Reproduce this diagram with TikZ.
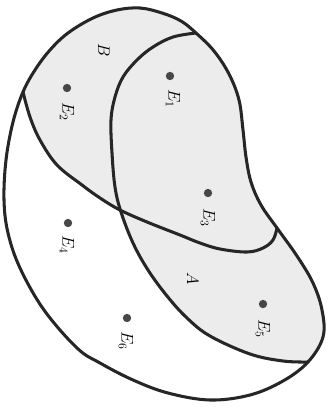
\documentclass[tikz,border=0pt]{standalone}
\begin{document}
\begin{tikzpicture}[x=0.03cm,y=-0.03cm,
  curve/.style={line width=2.6pt, line join=round, line cap=round, draw=black!85},
  shade/.style={fill=gray!15},
  pt/.style={circle, fill=black!72, inner sep=0pt, minimum size=0.25cm},
  lab/.style={rotate=-90, font=\fontsize{14}{16}\selectfont, inner sep=0pt}]
\useasboundingbox (0,0) rectangle (327,413);
% shading of A and B inside S
\begin{scope}
\clip plot[smooth cycle, tension=0.6] coordinates {(23,92) (35,70) (50,50) (68,33) (93,18) (117,10) (140,8) (162,13) (181,21) (196,33) (214,51) (229,74) (239,100) (243,130) (246,157) (251,182) (261,205) (277,228) (297,256) (313,283) (322,310) (323,337) (308,362) (283,381) (250,395) (210,400) (168,393) (133,380) (100,363) (77,348) (44,310) (20,268) (8,233) (4,200) (6,160) (13,122)};
\fill[shade] plot[smooth, tension=0.6] coordinates {(23,92) (30,117) (40,140) (57,165) (82,185) (100,198) (120,210) (147,222) (180,235) (200,243) (220,249) (247,252) (263,248) (273,240) (277,228)} -- (340,228) -- (340,-20) -- (-20,-20) -- (-20,92) -- cycle;
\fill[shade] plot[smooth, tension=0.6] coordinates {(196,33) (173,37) (153,47) (137,60) (123,77) (115,97) (111,120) (112,153) (115,187) (121,212) (133,243) (148,270) (167,296) (187,318) (210,336) (250,354) (283,361) (308,362)} -- (340,362) -- (340,-20) -- (196,-20) -- cycle;
\end{scope}
% outer set S
\draw[curve] plot[smooth cycle, tension=0.6] coordinates {(23,92) (35,70) (50,50) (68,33) (93,18) (117,10) (140,8) (162,13) (181,21) (196,33) (214,51) (229,74) (239,100) (243,130) (246,157) (251,182) (261,205) (277,228) (297,256) (313,283) (322,310) (323,337) (308,362) (283,381) (250,395) (210,400) (168,393) (133,380) (100,363) (77,348) (44,310) (20,268) (8,233) (4,200) (6,160) (13,122)};
% lower boundary of B
\draw[curve] plot[smooth, tension=0.6] coordinates {(23,92) (30,117) (40,140) (57,165) (82,185) (100,198) (120,210) (147,222) (180,235) (200,243) (220,249) (247,252) (263,248) (273,240) (277,228)};
% left boundary of A
\draw[curve] plot[smooth, tension=0.6] coordinates {(196,33) (173,37) (153,47) (137,60) (123,77) (115,97) (111,120) (112,153) (115,187) (121,212) (133,243) (148,270) (167,296) (187,318) (210,336) (250,354) (283,361) (308,362)};
% points
\node[pt] (e1) at (170,76) {};
\node[pt] (e2) at (67,88) {};
\node[pt] (e3) at (208,193) {};
\node[pt] (e4) at (68,223) {};
\node[pt] (e5) at (263,304) {};
\node[pt] (e6) at (127,318) {};
% labels
\node[lab] (l1) at (173,99) {$E_1$};
\node[lab] (l2) at (67,112) {$E_2$};
\node[lab] (l3) at (208,218) {$E_3$};
\node[lab] (l4) at (67,245) {$E_4$};
\node[lab] (l5) at (263,329) {$E_5$};
\node[lab] (l6) at (126,341) {$E_6$};
\node[lab] (lb) at (104,50) {$B$};
\node[lab] (la) at (193,279) {$A$};
\end{tikzpicture}
\end{document}
